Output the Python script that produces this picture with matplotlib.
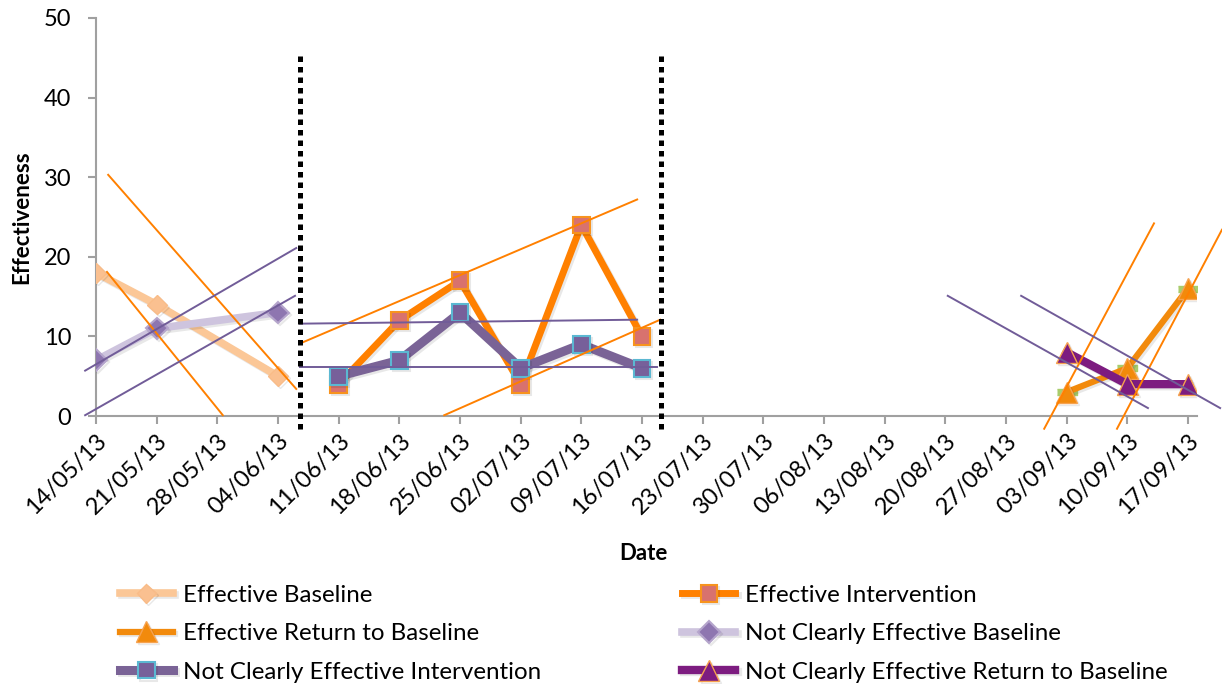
import matplotlib.pyplot as plt
import matplotlib.patheffects as pe

plt.rcParams['font.family'] = ['Lato', 'DejaVu Sans']

# weekly category axis
week_labels = ["14/05/13", "21/05/13", "28/05/13", "04/06/13", "11/06/13", "18/06/13",
               "25/06/13", "02/07/13", "09/07/13", "16/07/13", "23/07/13", "30/07/13",
               "06/08/13", "13/08/13", "20/08/13", "27/08/13", "03/09/13", "10/09/13",
               "17/09/13"]

baseline_dates = ["14/05/13", "21/05/13", "04/06/13"]
intervention_dates = ["11/06/13", "18/06/13", "25/06/13", "02/07/13", "09/07/13", "16/07/13"]
return_dates = ["03/09/13", "10/09/13", "17/09/13"]

eff_baseline = [18, 14, 5]
eff_intervention = [4, 12, 17, 4, 24, 10]
eff_return = [3, 6, 16]
ncl_baseline = [7, 11, 13]
ncl_intervention = [5, 7, 13, 6, 9, 6]
ncl_return = [8, 4, 4]
hidden_return = [3, 6, 16]  # green markers peeking out behind the triangles

# hand drawn trend envelopes, in (weeks since 14/05/13, value) pairs
orange_trends = [
    [(0.20, 30.3), (3.30, 3.4)],
    [(0.18, 18.1), (2.09, 0.1)],
    [(3.36, 9.1), (8.92, 27.2)],
    [(5.74, 0.1), (9.30, 12.1)],
    [(15.63, -1.6), (17.44, 24.2)],
    [(16.83, -1.6), (18.56, 23.4)],
]
purple_trends = [
    [(-0.18, 5.7), (3.30, 21.1)],
    [(-0.18, 0.1), (3.28, 15.1)],
    [(3.36, 11.6), (8.92, 12.1)],
    [(3.36, 6.1), (9.25, 6.1)],
    [(14.04, 15.1), (17.34, 1.0)],
    [(15.25, 15.1), (18.53, 1.0)],
]

# phase change lines (weeks) and their vertical extent
phase_changes = [3.37, 9.31]
phase_span = (-1.6, 45.4)


def pos(dates):
    return [week_labels.index(d) for d in dates]


shadow = [pe.SimpleLineShadow(offset=(1.5, -1.5), alpha=0.09, shadow_color='black'), pe.Normal()]

fig = plt.figure(figsize=(12.22, 6.84), dpi=100)
ax = fig.add_axes([0.0786, 0.3918, 0.9010, 0.5819])

series = {}
series['eb'], = ax.plot(pos(baseline_dates), eff_baseline, color='#FBC797', lw=5.5,
                        marker='D', ms=10, mfc='#FAC090', mec='#F9BC88',
                        label='Effective Baseline', path_effects=shadow, zorder=3)
series['ei'], = ax.plot(pos(intervention_dates), eff_intervention, color='#FF8000', lw=5,
                        marker='s', ms=12, mfc='#D8726E', mec='#F7931E', mew=1.5,
                        label='Effective Intervention', path_effects=shadow, zorder=3)
ax.plot(pos(return_dates), hidden_return, ls='none',
        marker=[(-1, -0.35), (1, -0.35), (1, 0.35), (-1, 0.35)], ms=14,
        mfc='#A9CC6B', mec='#A9CC6B', zorder=3)
series['er'], = ax.plot(pos(return_dates), eff_return, color='#F28A0C', lw=4.5,
                        marker='^', ms=15, mfc='#F28A0C', mec='#F6A24F',
                        label='Effective Return to Baseline', path_effects=shadow, zorder=3)
series['nb'], = ax.plot(pos(baseline_dates), ncl_baseline, color='#CEC4DE', lw=5.5,
                        marker='D', ms=11, mfc='#8E76B0', mec='#B5A5CC', mew=1.5,
                        label='Not Clearly Effective Baseline', path_effects=shadow, zorder=3)
series['ni'], = ax.plot(pos(intervention_dates), ncl_intervention, color='#7A6396', lw=6.5,
                        marker='s', ms=12, mfc='#77609A', mec='#5BB8D2', mew=1.5,
                        label='Not Clearly Effective Intervention', path_effects=shadow, zorder=3)
series['nr'], = ax.plot(pos(return_dates), ncl_return, color='#7D1C80', lw=6,
                        marker='^', ms=15, mfc='#7D1C80', mec='#F6A24F',
                        label='Not Clearly Effective Return to Baseline', path_effects=shadow,
                        zorder=3)

for (x0, y0), (x1, y1) in orange_trends:
    ax.plot([x0, x1], [y0, y1], color='#FF8000', lw=1.4, clip_on=False, zorder=4)
for (x0, y0), (x1, y1) in purple_trends:
    ax.plot([x0, x1], [y0, y1], color='#715C98', lw=1.4, clip_on=False, zorder=4)

for xc in phase_changes:
    ax.plot([xc, xc], phase_span, color='black', lw=3.6, ls=(0, (1.1, 1.0)),
            dash_capstyle='butt', clip_on=False, zorder=5)

ax.set_xlim(0, 18.15)
ax.set_ylim(0, 50)
ax.set_yticks(range(0, 51, 10))
ax.set_xticks(range(len(week_labels)))
ax.set_xticklabels(week_labels, rotation=45, ha='right', va='top', rotation_mode='anchor')

for s in ['top', 'right']:
    ax.spines[s].set_visible(False)
for s in ['left', 'bottom']:
    ax.spines[s].set_color('#A0A0A0')
    ax.spines[s].set_linewidth(1.5)
ax.tick_params(axis='y', direction='out', length=6, width=1.5, color='#A0A0A0',
               labelsize=17, pad=12)
ax.tick_params(axis='x', direction='out', length=6, width=1.5, color='#A0A0A0',
               labelsize=17, pad=4)

ax.set_ylabel('Effectiveness', fontsize=16, fontweight='bold')
ax.yaxis.set_label_coords(-0.058, 0.5)
ax.set_xlabel('Date', fontsize=16, fontweight='bold')
ax.xaxis.set_label_coords(0.497, -0.318)

order = ['eb', 'er', 'ni', 'ei', 'nb', 'nr']
fig.legend([series[k] for k in order], [series[k].get_label() for k in order],
           loc='upper left', bbox_to_anchor=(0.098, 0.145), ncol=2, frameon=False,
           fontsize=17.4, handlelength=2.2, handletextpad=0.41, columnspacing=5.85,
           labelspacing=0.72, borderpad=0, borderaxespad=0)

fig.savefig('out.png', dpi=100)
